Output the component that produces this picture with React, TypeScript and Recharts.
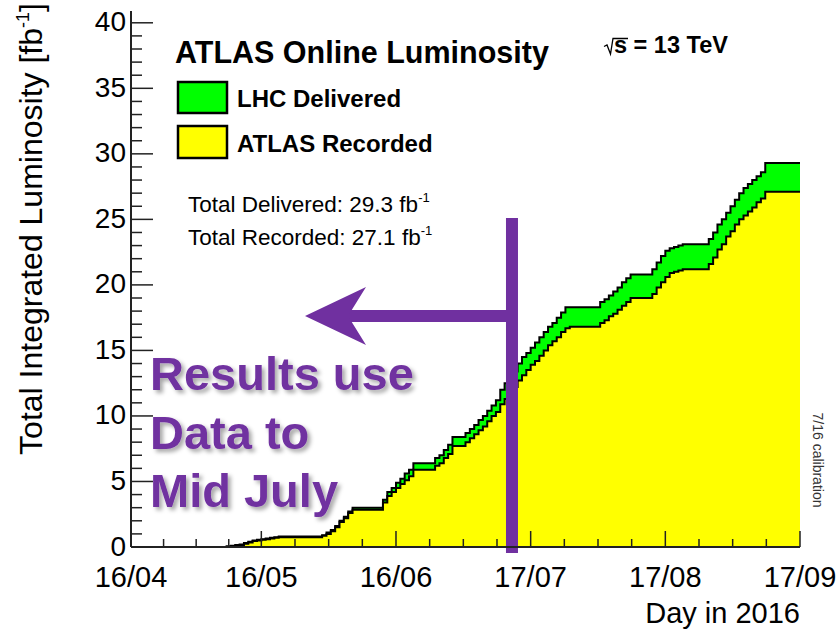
import React from 'react';
import { ComposedChart, Area, XAxis, YAxis, ReferenceLine } from 'recharts';

const FONT = '"Liberation Sans", Arial, Helvetica, sans-serif';
const PURPLE = '#7030a0';

// integrated luminosity (fb^-1) for each day since 16/04/2016
const delivered = [
  0, 0, 0, 0, 0, 0, 0, 0, 0, 0, 0, 0, 0, 0, 0, 0, 0, 0, 0, 0, 0, 0,
  0.05, 0.1, 0.15, 0.2, 0.3, 0.4, 0.5, 0.55,
  0.6, 0.65, 0.7, 0.75,
  0.8, 0.8, 0.8, 0.8, 0.8, 0.8, 0.8, 0.8, 0.8, 0.8,
  0.9, 1.1, 1.3, 1.6, 2.0, 2.3, 2.7,
  3.0, 3.0, 3.0, 3.0, 3.0, 3.0, 3.0,
  3.6, 4.2, 4.5, 4.9, 5.2, 5.6, 5.9,
  6.4, 6.4, 6.4, 6.4, 6.4,
  6.8, 7.0, 7.4, 7.8,
  8.4, 8.4, 8.4,
  8.7, 9.0, 9.3, 9.7, 10.0, 10.4, 10.8, 11.2,
  12.0, 12.5, 13.0, 13.4, 14.0, 14.5, 14.8, 15.2, 15.6, 16.0, 16.4, 16.8, 17.1, 17.5, 17.9,
  18.3, 18.3, 18.3, 18.3, 18.3, 18.3, 18.3, 18.3,
  18.7, 18.9, 19.2, 19.5, 19.8, 20.2, 20.5,
  20.8, 20.8, 20.8, 20.8, 20.8,
  21.2, 21.7, 22.2, 22.6, 22.8, 22.9, 23.0,
  23.1, 23.1, 23.1, 23.1, 23.1, 23.1,
  23.5, 24.0, 24.6, 25.0, 25.5, 26.0, 26.5, 27.0, 27.4, 27.7, 28.0, 28.3, 28.6,
  29.3, 29.3, 29.3, 29.3, 29.3, 29.3, 29.3, 29.3, 29.3,
];

const recorded = [
  0, 0, 0, 0, 0, 0, 0, 0, 0, 0, 0, 0, 0, 0, 0, 0, 0, 0, 0, 0, 0, 0, 0,
  0.05, 0.1, 0.15, 0.25, 0.35, 0.45, 0.5,
  0.55, 0.6, 0.65, 0.7,
  0.75, 0.75, 0.75, 0.75, 0.75, 0.75, 0.75, 0.75, 0.75, 0.75,
  0.85, 1.0, 1.2, 1.5, 1.9, 2.2, 2.6,
  2.85, 2.85, 2.85, 2.85, 2.85, 2.85, 2.85,
  3.4, 3.9, 4.2, 4.5, 4.8, 5.1, 5.4,
  5.9, 5.9, 5.9, 5.9, 5.9,
  6.2, 6.4, 6.8, 7.1,
  7.7, 7.7, 7.7,
  8.0, 8.3, 8.6, 8.9, 9.2, 9.6, 10.0, 10.3,
  10.9, 11.3, 11.8, 12.2, 12.7, 13.1, 13.5, 13.9, 14.2, 14.6, 15.0, 15.4, 15.7, 16.0, 16.4, 16.7,
  16.8, 16.8, 16.8, 16.8, 16.8, 16.8, 16.8,
  17.1, 17.3, 17.6, 17.8, 18.1, 18.4, 18.7,
  19.0, 19.0, 19.0, 19.0, 19.0,
  19.3, 19.8, 20.2, 20.6, 20.9, 21.0, 21.1,
  21.2, 21.2, 21.2, 21.2, 21.2, 21.2,
  21.6, 22.1, 22.7, 23.1, 23.7, 24.1, 24.6, 25.0, 25.3, 25.6, 25.9, 26.3, 26.6,
  27.1, 27.1, 27.1, 27.1, 27.1, 27.1, 27.1, 27.1, 27.1,
];

// month ticks (day index) and their labels, plus quarter-month minor ticks
const monthDays = [0, 30, 61, 92, 123, 154];
const monthLabels = ['16/04', '16/05', '16/06', '17/07', '17/08', '17/09'];
const xTicks = [
  0, 7.5, 15, 22.5, 30, 37.75, 45.5, 53.25, 61, 68.75, 76.5, 84.25, 92,
  99.75, 107.5, 115.25, 123, 130.75, 138.5, 146.25, 154,
];
const yTicks = [
  0, 1, 2, 3, 4, 5, 6, 7, 8, 9, 10, 11, 12, 13, 14, 15, 16, 17, 18, 19, 20,
  21, 22, 23, 24, 25, 26, 27, 28, 29, 30, 31, 32, 33, 34, 35, 36, 37, 38, 39, 40,
];
const cutDay = 87.7; // "mid July" marker

const data = delivered.map((d, i) => ({ day: i, delivered: d, recorded: recorded[i] }));

const isMonth = (v: number) => monthDays.indexOf(v) >= 0;

function BottomTick(props: any) {
  const { x, y, payload } = props;
  const major = isMonth(payload.value);
  return (
    <g>
      <line x1={x} y1={y} x2={x} y2={y - (major ? 16 : 8)} stroke="#222" strokeWidth={1.5} />
      {major && (
        <text x={x} y={y + 40} textAnchor="middle" fontSize={29} fontFamily={FONT} fill="#000">
          {monthLabels[monthDays.indexOf(payload.value)]}
        </text>
      )}
    </g>
  );
}

function TopTick(props: any) {
  const { x, y, payload } = props;
  const major = isMonth(payload.value);
  return <line x1={x} y1={y} x2={x} y2={y + (major ? 16 : 8)} stroke="#222" strokeWidth={1.5} />;
}

function LeftTick(props: any) {
  const { x, y, payload } = props;
  const major = payload.value % 5 === 0;
  return (
    <g>
      <line x1={x} y1={y} x2={x + (major ? 22 : 11)} y2={y} stroke="#222" strokeWidth={1.5} />
      {major && (
        <text x={x - 5} y={y - 1} textAnchor="end" dominantBaseline="central" fontSize={28} fontFamily={FONT} fill="#000">
          {payload.value}
        </text>
      )}
    </g>
  );
}

function RightTick(props: any) {
  const { x, y, payload } = props;
  const major = payload.value % 5 === 0;
  return <line x1={x} y1={y} x2={x - (major ? 22 : 11)} y2={y} stroke="#222" strokeWidth={1.5} />;
}

const axisLine = { stroke: '#222', strokeWidth: 2 };

export default function App() {
  return (
    <div style={{ position: 'absolute', left: 0, top: 0, width: 840, height: 635, background: '#fff', fontFamily: FONT }}>
      <ComposedChart width={840} height={635} data={data} margin={{ top: 11, right: 40, bottom: 48, left: 71 }}>
        <XAxis dataKey="day" type="number" domain={[0, 154]} ticks={xTicks} interval={0} height={40}
          tickSize={0} tickMargin={0} tickLine={false} axisLine={axisLine} tick={<BottomTick />} />
        <XAxis xAxisId="top" orientation="top" dataKey="day" type="number" domain={[0, 154]} ticks={xTicks}
          interval={0} height={0} tickSize={0} tickMargin={0} tickLine={false} axisLine={axisLine} tick={<TopTick />} />
        <YAxis type="number" domain={[0, 40.9]} ticks={yTicks} interval={0} width={60}
          tickSize={0} tickMargin={0} tickLine={false} axisLine={axisLine} tick={<LeftTick />} />
        <YAxis yAxisId="right" orientation="right" type="number" domain={[0, 40.9]} ticks={yTicks} interval={0}
          width={0} tickSize={0} tickMargin={0} tickLine={false} axisLine={axisLine} tick={<RightTick />} />
        <Area type="stepAfter" dataKey="delivered" fill="#00ff00" fillOpacity={1} stroke="#000" strokeWidth={2}
          dot={false} activeDot={false} isAnimationActive={false} />
        <Area type="stepAfter" dataKey="recorded" fill="#ffff00" fillOpacity={1} stroke="#000" strokeWidth={2}
          dot={false} activeDot={false} isAnimationActive={false} />
        <ReferenceLine segment={[{ x: cutDay, y: -0.45 }, { x: cutDay, y: 25.1 }]} stroke={PURPLE}
          strokeWidth={12} ifOverflow="visible" />
      </ComposedChart>

      <svg width={840} height={635} style={{ position: 'absolute', left: 0, top: 0, pointerEvents: 'none' }}>
        <defs>
          <filter id="shadow" x="-10%" y="-30%" width="130%" height="170%">
            <feDropShadow dx={3} dy={3} stdDeviation={2} floodColor="#000" floodOpacity={0.35} />
          </filter>
        </defs>

        {/* header + legend */}
        <text x={175} y={63} fontSize={30.5} fontWeight="bold" fill="#000">ATLAS Online Luminosity</text>
        <path d="M604,46.5 L607,45 L610.5,54 L613,38.5 L628,38.5" fill="none" stroke="#000" strokeWidth={1.3} />
        <text x={614} y={53} fontSize={23.5} fontWeight="bold" fill="#000">s = 13 TeV</text>

        <rect x={178} y={82} width={49} height={31} fill="#00ff00" stroke="#000" strokeWidth={2.5} />
        <text x={237} y={107} fontSize={24} fontWeight="bold" fill="#000">LHC Delivered</text>
        <rect x={178} y={126} width={49} height={32} fill="#ffff00" stroke="#000" strokeWidth={2.5} />
        <text x={237} y={152} fontSize={24} fontWeight="bold" fill="#000">ATLAS Recorded</text>

        <text x={188} y={212} fontSize={22.5} fill="#000">
          Total Delivered: 29.3 fb<tspan fontSize={13} dy={-10}>-1</tspan>
        </text>
        <text x={188} y={245} fontSize={22.5} fill="#000">
          Total Recorded: 27.1 fb<tspan fontSize={13} dy={-10}>-1</tspan>
        </text>

        {/* axis titles */}
        <text transform="translate(42,229) rotate(-90)" textAnchor="middle" fontSize={32} fill="#000">
          Total Integrated Luminosity [fb<tspan fontSize={18} dy={-13}>-1</tspan><tspan dy={13}>]</tspan>
        </text>
        <text x={800} y={623} textAnchor="end" fontSize={29} fill="#000">Day in 2016</text>
        <text transform="translate(813,460) rotate(90)" textAnchor="middle" fontSize={14} fill="#333">7/16 calibration</text>

        {/* annotation */}
        <rect x={345} y={310} width={168} height={12} fill={PURPLE} />
        <polygon points="305,316 366,287 348,316 366,345" fill={PURPLE} />
        <g fill={PURPLE} fontSize={47} fontWeight="bold" filter="url(#shadow)">
          <text x={150} y={390}>Results use</text>
          <text x={150} y={449}>Data to</text>
          <text x={150} y={507}>Mid July</text>
        </g>
      </svg>
    </div>
  );
}
